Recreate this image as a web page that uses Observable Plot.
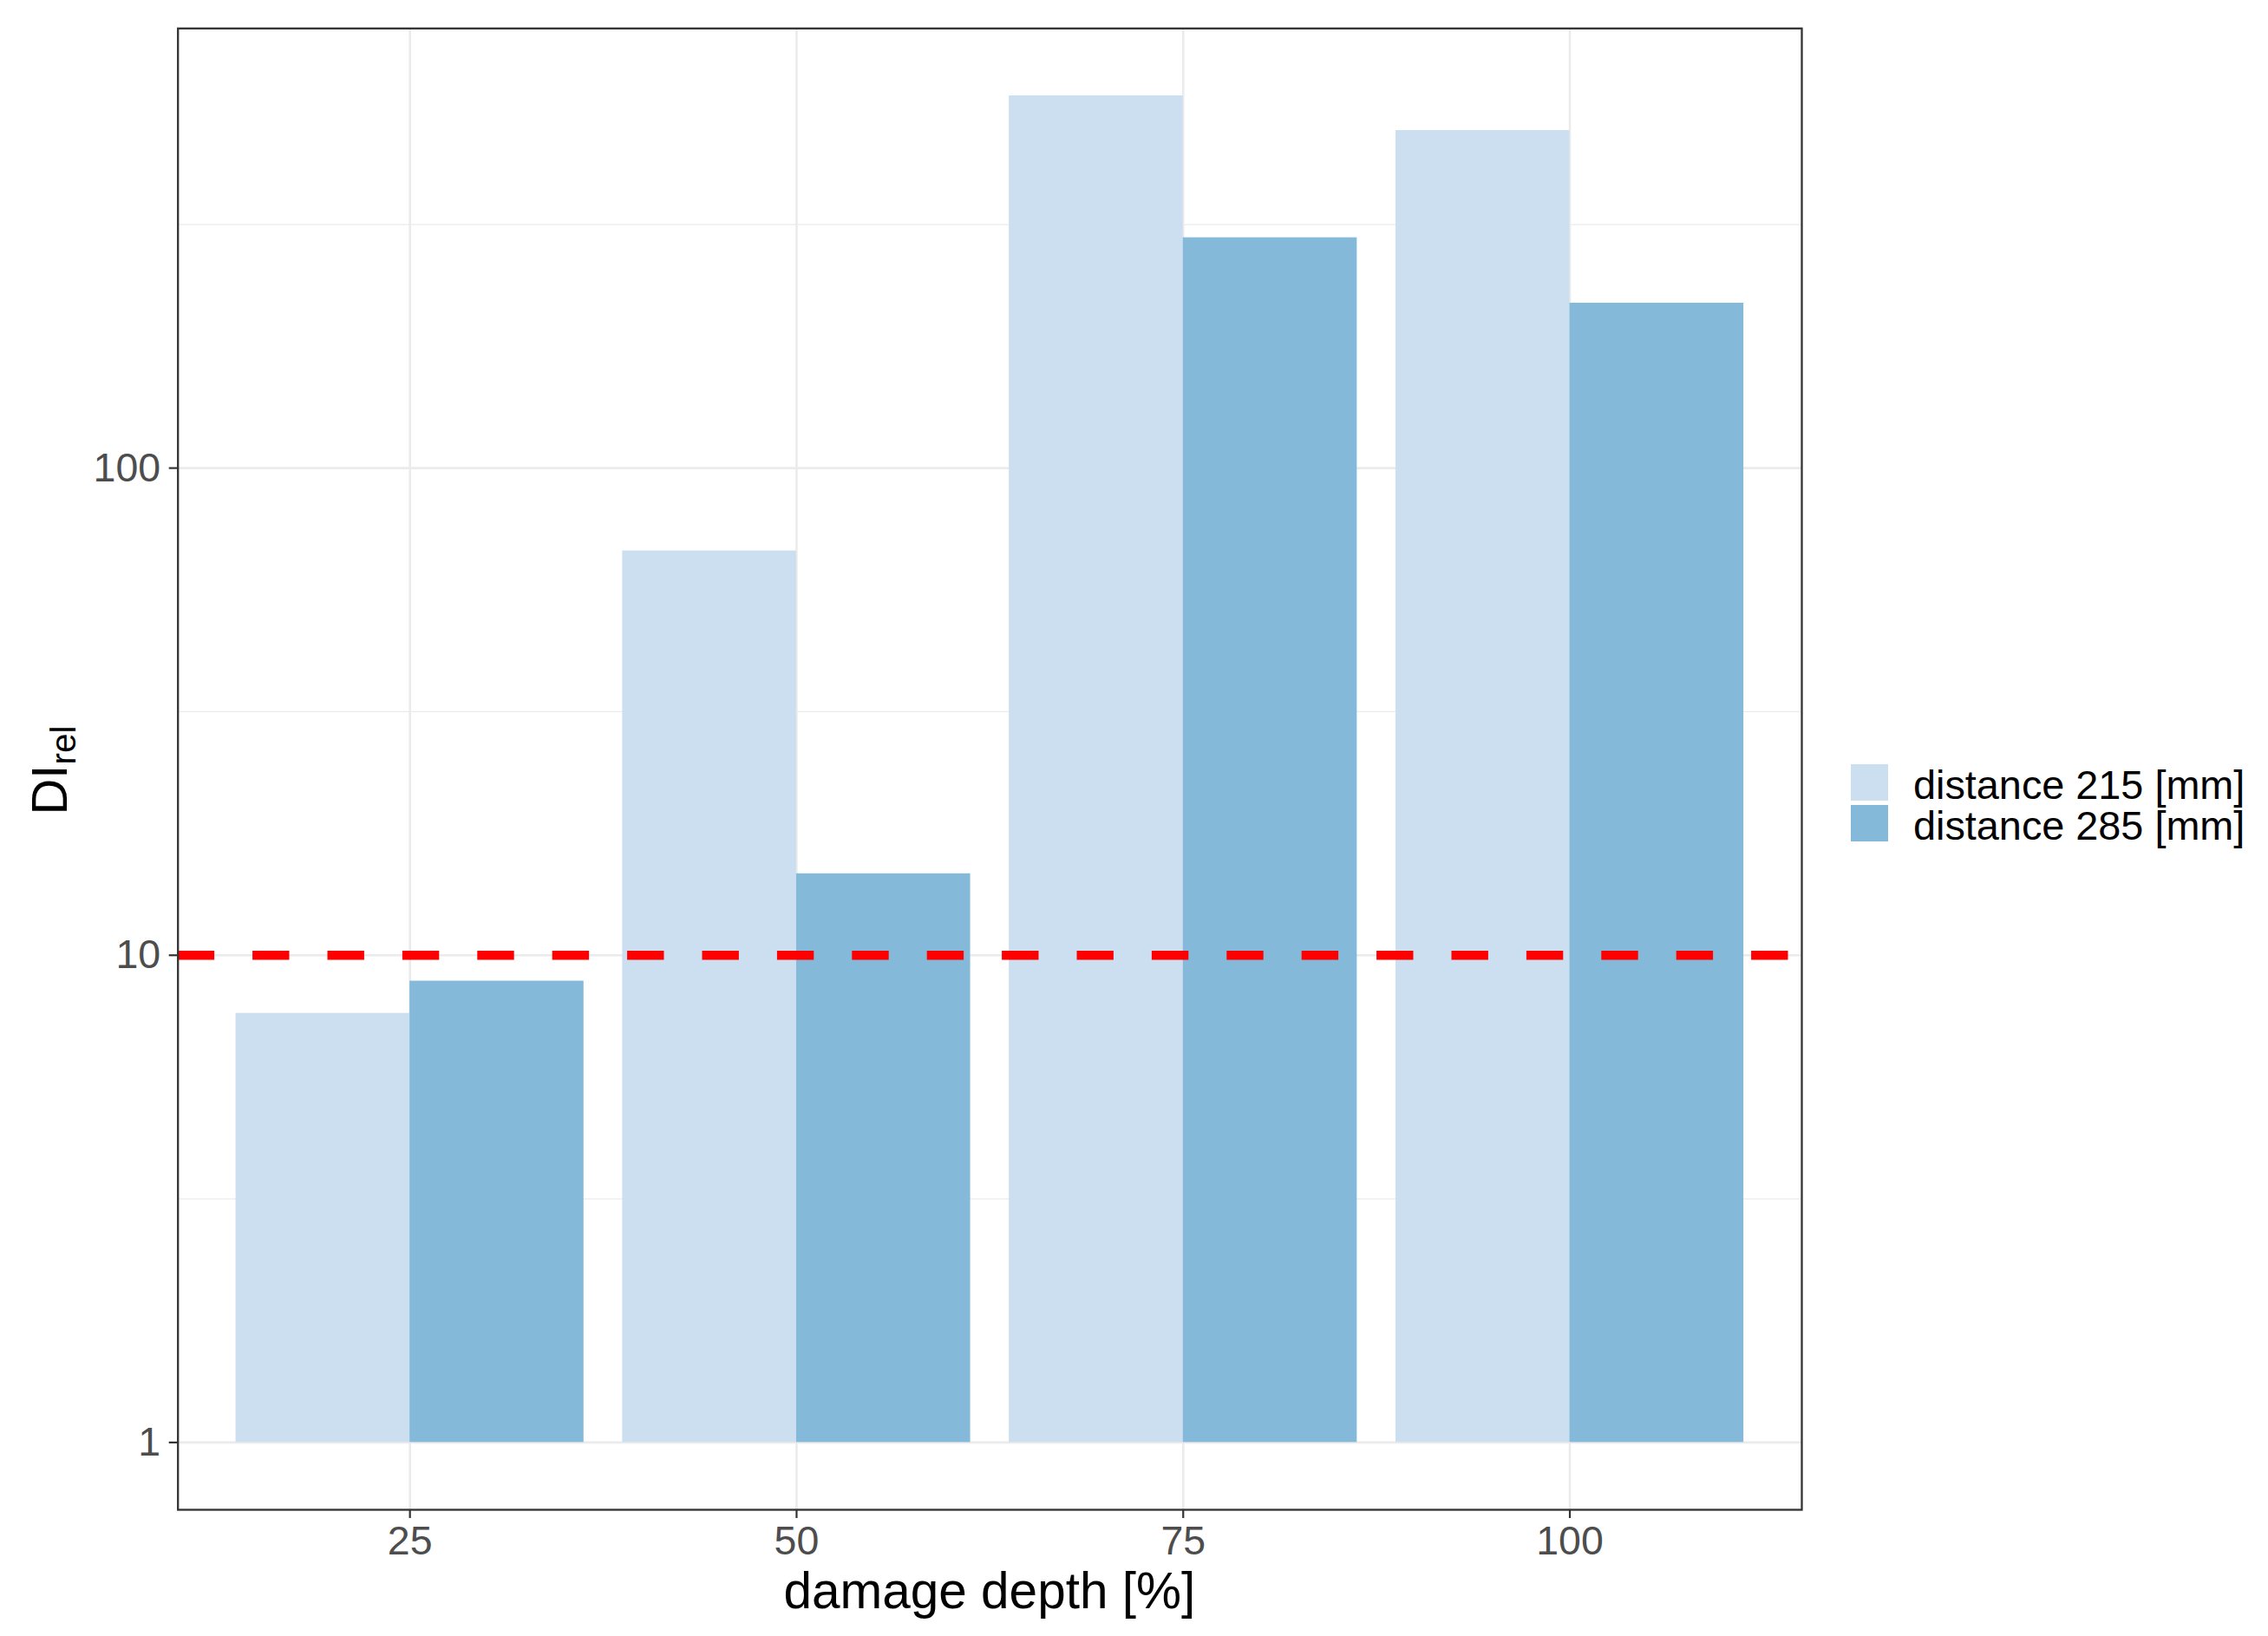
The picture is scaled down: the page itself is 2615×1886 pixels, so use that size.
<!DOCTYPE html>
<html>
<head>
<meta charset="utf-8">
<script src="https://cdn.jsdelivr.net/npm/d3@7"></script>
<script src="https://cdn.jsdelivr.net/npm/@observablehq/plot@0.6"></script>
<style>
  html, body { margin: 0; padding: 0; background: #ffffff; }
  #wrap { position: relative; width: 2615px; height: 1886px; font-family: "Liberation Sans", Arial, sans-serif; }
  #chart svg { display: block; }
  .ytitle { position: absolute; left: 57px; top: 888px; transform: translate(-50%, -50%) rotate(-90deg);
            font-size: 58px; line-height: 58px; color: #000; white-space: nowrap; }
  .ytitle sub { font-size: 0.7em; vertical-align: -10px; line-height: 0; }
  .xtitle { position: absolute; left: 204.7px; width: 1872.3px; top: 1805px; text-align: center;
            font-size: 58.5px; line-height: 58px; color: #000; white-space: nowrap; }
  .lkey { position: absolute; left: 2134px; width: 43px; height: 42px; }
  .ltext { position: absolute; left: 2206px; font-size: 46.8px; line-height: 40px; height: 40px; color: #000; white-space: nowrap; }
</style>
</head>
<body>
<div id="wrap">
  <div id="chart"></div>
</div>
<script>
// ---- data ----
const depths = ["25", "50", "75", "100"];               // damage depth [%] categories
const series = ["distance 215 [mm]", "distance 285 [mm]"];
const dist215 = [7.6, 67.6, 581, 493];                  // DI_rel, distance 215 mm
const dist285 = [8.85, 14.7, 297, 218];                 // DI_rel, distance 285 mm
const yTicks = [1, 10, 100];
const yMinor = [3.1623, 31.623, 316.23];
const threshold = [10];
const colors = ["#CCDFF1", "#85B9D9"];

// ---- build table ----
const values = [dist215, dist285];
const rows = [];
depths.forEach((d, i) => {
  series.forEach((s, k) => {
    rows.push({pos: i + 1, depth: d, series: s, k, value: values[k][i]});
  });
});
const positions = depths.map((d, i) => i + 1);
const barWidth = 0.9;
const half = barWidth / 2;

// y domain with ggplot-like 5% expansion in log space (bars start at 1)
const lmax = Math.log10(d3.max(rows, r => r.value));
const ex = lmax * 0.05;
const yDomain = [Math.pow(10, -ex), Math.pow(10, lmax + ex)];

const font = '"Liberation Sans", Arial, sans-serif';
const plot = Plot.plot({
  width: 2615,
  height: 1886,
  marginLeft: 204.7,
  marginRight: 538,
  marginTop: 32.3,
  marginBottom: 146,
  style: {fontFamily: font, fontSize: "46.5px", background: "#ffffff", color: "#4D4D4D"},
  x: {domain: [0.4, 4.6]},
  y: {type: "log", domain: yDomain},
  color: {domain: series, range: colors},
  marks: [
    Plot.gridY(yMinor, {stroke: "#EBEBEB", strokeOpacity: 1, strokeWidth: 1.3}),
    Plot.gridY(yTicks, {stroke: "#EBEBEB", strokeOpacity: 1, strokeWidth: 2.6}),
    Plot.gridX(positions, {stroke: "#EBEBEB", strokeOpacity: 1, strokeWidth: 2.6}),
    Plot.rect(rows, {
      x1: r => r.pos - half + r.k * half,
      x2: r => r.pos + r.k * half,
      y1: 1,
      y2: "value",
      fill: "series"
    }),
    Plot.ruleY(threshold, {stroke: "#FF0000", strokeWidth: 10.7, strokeDasharray: "42.4,44"}),
    Plot.frame({stroke: "#333333", strokeWidth: 2.3}),
    Plot.axisX(positions, {
      tickFormat: p => depths[p - 1], tickSize: 10, tickPadding: 8,
      stroke: "#333333", strokeWidth: 2.2, fill: "#4D4D4D", label: null
    }),
    Plot.axisY(yTicks, {
      tickFormat: v => String(v), tickSize: 10, tickPadding: 10,
      stroke: "#333333", strokeWidth: 2.2, fill: "#4D4D4D", label: null
    })
  ]
});
document.getElementById("chart").appendChild(plot);

// ---- titles & legend (HTML around the SVG) ----
const wrap = document.getElementById("wrap");
const yt = document.createElement("div");
yt.className = "ytitle";
yt.innerHTML = "DI<sub>rel</sub>";
wrap.appendChild(yt);

const xt = document.createElement("div");
xt.className = "xtitle";
xt.textContent = "damage depth [%]";
wrap.appendChild(xt);

const keyTops = [881, 928];
series.forEach((s, k) => {
  const key = document.createElement("div");
  key.className = "lkey";
  key.style.top = keyTops[k] + "px";
  key.style.background = colors[k];
  wrap.appendChild(key);
  const t = document.createElement("div");
  t.className = "ltext";
  t.style.top = (keyTops[k] + 4) + "px";
  t.textContent = s;
  wrap.appendChild(t);
});
</script>
</body>
</html>
